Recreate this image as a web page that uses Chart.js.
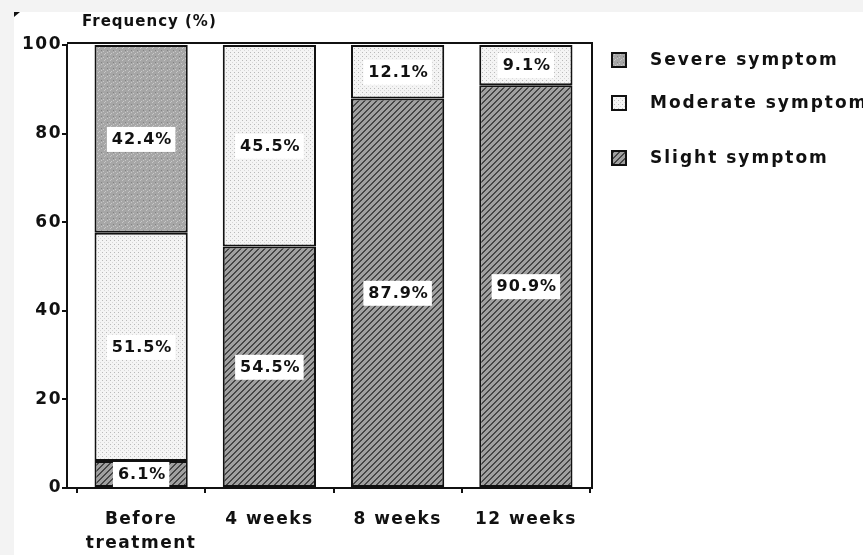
<!DOCTYPE html>
<html>
<head>
<meta charset="utf-8">
<script src="https://cdn.jsdelivr.net/npm/chart.js@4.4.1/dist/chart.umd.min.js"></script>
<style>
  html, body { margin: 0; padding: 0; background: #f3f3f3; width: 863px; height: 555px; overflow: hidden; }
  #chart { position: absolute; left: 14px; top: 12px; background: #fff; }
</style>
</head>
<body>
<canvas id="chart" width="849" height="543"></canvas>
<script>
const categories = [["Before", "treatment"], "4 weeks", "8 weeks", "12 weeks"];
const severe = [42.4, 0, 0, 0];
const moderate = [51.5, 45.5, 12.1, 9.1];
const slight = [6.1, 54.5, 87.9, 90.9];
const yTicks = [0, 20, 40, 60, 80, 100];

// small tiled fills to imitate the printed textures
function makePattern(size, paint) {
  const c = document.createElement("canvas");
  c.width = size; c.height = size;
  const g = c.getContext("2d");
  const img = g.createImageData(size, size);
  for (let y = 0; y < size; y++) {
    for (let x = 0; x < size; x++) {
      const v = paint(x, y);
      const i = (y * size + x) * 4;
      img.data[i] = img.data[i + 1] = img.data[i + 2] = v;
      img.data[i + 3] = 255;
    }
  }
  g.putImageData(img, 0, 0);
  return g.createPattern(c, "repeat");
}
const ctx = document.getElementById("chart").getContext("2d");
const hatch = makePattern(6, (x, y) => ((x + y) % 6 < 2 ? 70 : 160));
const dots = makePattern(4, (x, y) => (x === 0 && y === 0 ? 185 : (x === 2 && y === 2 ? 215 : 244)));
const speckle = makePattern(6, (x, y) => ((x * 7 + y * 3) % 11 === 0 ? 200 : ((x + y * 5) % 13 === 0 ? 130 : 166)));

const FONT = "'DejaVu Sans'";

const labelsPlugin = {
  id: "segLabels",
  afterDatasetsDraw(chart) {
    const c = chart.ctx;
    c.save();
    c.font = "bold 16px " + FONT;
    c.letterSpacing = "1px";
    c.textAlign = "center";
    c.textBaseline = "middle";
    chart.data.datasets.forEach((ds, i) => {
      chart.getDatasetMeta(i).data.forEach((bar, j) => {
        const v = ds.data[j];
        if (!v) return;
        const txt = v.toFixed(1) + "%";
        const cy = (bar.y + bar.base) / 2;
        const w = c.measureText(txt).width + 8;
        c.fillStyle = "#fff";
        c.fillRect(bar.x - w / 2, cy - 12, w, 25);
        c.fillStyle = "#111";
        c.fillText(txt, bar.x + 1, cy + 1);
      });
    });
    c.restore();
  }
};

const framePlugin = {
  id: "frame",
  afterLayout(chart) {
    // the printed plot leaves a gap between the y axis and the first bar
    const x = chart.scales.x;
    x._startPixel += 10;
    x._length -= 12;
    x._endPixel = x._startPixel + x._length;
  },
  beforeDraw(chart) {
    chart.ctx.letterSpacing = "1.5px";
  },
  afterDraw(chart) {
    const c = chart.ctx;
    const a = chart.chartArea;
    c.save();
    c.strokeStyle = "#111";
    c.lineWidth = 2;
    c.beginPath();
    c.moveTo(a.left, a.top - 2);
    c.lineTo(a.right, a.top - 2);
    c.lineTo(a.right, a.bottom);
    c.stroke();

    // corner mark
    c.fillStyle = "#111";
    c.beginPath();
    c.moveTo(0, 0); c.lineTo(6, 0); c.lineTo(0, 5); c.closePath();
    c.fill();

    // title
    c.font = "bold 15px " + FONT;
    c.letterSpacing = "1px";
    c.textBaseline = "middle";
    c.fillText("Frequency (%)", 68, 10);

    // legend
    c.font = "bold 17px " + FONT;
    c.letterSpacing = "2px";
    const order = [2, 1, 0];
    const rows = [48, 91, 146];
    order.forEach((di, k) => {
      const ds = chart.data.datasets[di];
      c.fillStyle = ds.backgroundColor;
      c.fillRect(598, rows[k] - 7, 14, 14);
      c.lineWidth = 2;
      c.strokeRect(598, rows[k] - 7, 14, 14);
      c.fillStyle = "#111";
      c.fillText(ds.label, 636, rows[k] + 1);
    });
    c.restore();
  }
};

new Chart(ctx, {
  type: "bar",
  data: {
    labels: categories,
    datasets: [
      { label: "Slight symptom", data: slight, backgroundColor: hatch },
      { label: "Moderate symptom", data: moderate, backgroundColor: dots },
      { label: "Severe symptom", data: severe, backgroundColor: speckle }
    ]
  },
  options: {
    responsive: false,
    animation: false,
    layout: { padding: { top: 33, right: 271, left: 0, bottom: 0 } },
    datasets: {
      bar: {
        barPercentage: 0.727,
        categoryPercentage: 1,
        borderColor: "#111",
        borderWidth: 2,
        borderSkipped: false
      }
    },
    plugins: {
      legend: { display: false },
      tooltip: { enabled: false }
    },
    scales: {
      x: {
        stacked: true,
        afterFit(s) { s.height = 67; },
        grid: { drawOnChartArea: false, offset: true, tickLength: 5, color: "#111", lineWidth: 2 },
        border: { color: "#111", width: 2 },
        ticks: { color: "#111", padding: 14, font: { family: "DejaVu Sans", size: 17, weight: "bold", lineHeight: 1.45 } }
      },
      y: {
        stacked: true,
        min: 0,
        max: 100,
        afterFit(s) { s.width = 53; },
        afterBuildTicks(s) { s.ticks = yTicks.map(v => ({ value: v })); },
        grid: { drawOnChartArea: false, tickLength: 5, color: "#111", lineWidth: 2 },
        border: { color: "#111", width: 2 },
        ticks: { color: "#111", padding: 0, font: { family: "DejaVu Sans", size: 17, weight: "bold" } }
      }
    }
  },
  plugins: [labelsPlugin, framePlugin]
});
</script>
</body>
</html>
